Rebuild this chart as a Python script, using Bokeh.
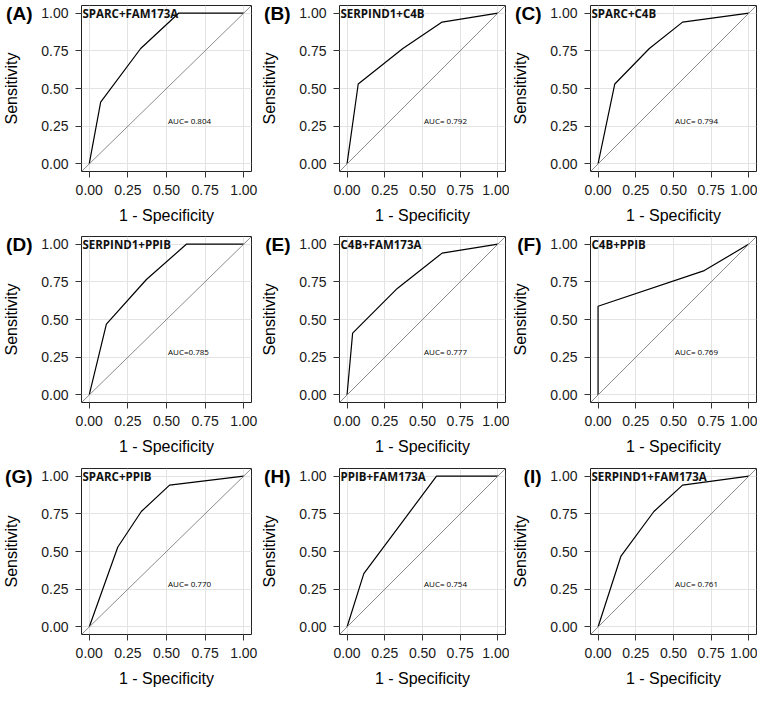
from bokeh.plotting import figure
from bokeh.layouts import gridplot
from bokeh.models import (Label, Slope, FixedTicker, NumeralTickFormatter, ColumnDataSource,
                          Range1d, LinearAxis)
from bokeh.embed import file_html
from bokeh.resources import INLINE

# ---------------- data ----------------
panel_tags = ["(A)", "(B)", "(C)", "(D)", "(E)", "(F)", "(G)", "(H)", "(I)"]
marker_names = ["SPARC+FAM173A", "SERPIND1+C4B", "SPARC+C4B",
                "SERPIND1+PPIB", "C4B+FAM173A", "C4B+PPIB",
                "SPARC+PPIB", "PPIB+FAM173A", "SERPIND1+FAM173A"]
auc_texts = ["AUC= 0.804", "AUC= 0.792", "AUC= 0.794",
             "AUC=0.785", "AUC= 0.777", "AUC= 0.769",
             "AUC= 0.770", "AUC= 0.754", "AUC= 0.761"]

fpr_A = [0.0, 0.074, 0.333, 0.580, 1.0]
tpr_A = [0.0, 0.410, 0.765, 1.000, 1.0]
fpr_B = [0.0, 0.074, 0.370, 0.630, 1.0]
tpr_B = [0.0, 0.530, 0.765, 0.940, 1.0]
fpr_C = [0.0, 0.111, 0.340, 0.560, 1.0]
tpr_C = [0.0, 0.530, 0.765, 0.940, 1.0]
fpr_D = [0.0, 0.111, 0.370, 0.630, 1.0]
tpr_D = [0.0, 0.470, 0.765, 1.000, 1.0]
fpr_E = [0.0, 0.037, 0.333, 0.630, 1.0]
tpr_E = [0.0, 0.410, 0.706, 0.940, 1.0]
fpr_F = [0.0, 0.000, 0.704, 1.0]
tpr_F = [0.0, 0.588, 0.824, 1.0]
fpr_G = [0.0, 0.185, 0.337, 0.520, 1.0]
tpr_G = [0.0, 0.530, 0.765, 0.940, 1.0]
fpr_H = [0.0, 0.111, 0.593, 1.0]
tpr_H = [0.0, 0.353, 1.000, 1.0]
fpr_I = [0.0, 0.152, 0.370, 0.560, 1.0]
tpr_I = [0.0, 0.470, 0.765, 0.940, 1.0]

fpr_all = [fpr_A, fpr_B, fpr_C, fpr_D, fpr_E, fpr_F, fpr_G, fpr_H, fpr_I]
tpr_all = [tpr_A, tpr_B, tpr_C, tpr_D, tpr_E, tpr_F, tpr_G, tpr_H, tpr_I]

tick_values = [0.0, 0.25, 0.5, 0.75, 1.0]
tag_tick = [1.0]
x_title = "1 - Specificity"
y_title = "Sensitivity"

# ---------------- layout ----------------
col_left = [77, 77, 77]
col_frame = [170, 166, 166]
col_right = [7, 4, 1]
row_top = [5, 8, 9]
row_bottom = [57, 57, 57]
row_frame = 166
X_LO, X_HI = -0.05, 1.05

AXIS_FONT = "Liberation Sans"
TXT_FONT = "Open Sans"

figs = []
for i in range(9):
    r, c = divmod(i, 3)
    p = figure(frame_width=col_frame[c], frame_height=row_frame,
               min_border_left=col_left[c], min_border_right=col_right[c],
               min_border_top=row_top[r], min_border_bottom=row_bottom[r],
               x_range=Range1d(X_LO, X_HI), y_range=Range1d(X_LO, X_HI),
               output_backend="svg", toolbar_location=None, tools="")
    p.background_fill_color = "white"
    p.border_fill_color = "white"
    p.outline_line_color = "#222222"
    p.outline_line_width = 1

    for ax in (p.xaxis, p.yaxis):
        ax.ticker = FixedTicker(ticks=tick_values)
        ax.formatter = NumeralTickFormatter(format="0.00")
        ax.axis_line_color = None
        ax.major_tick_line_color = "#333333"
        ax.major_tick_out = 6
        ax.major_tick_in = 0
        ax.minor_tick_line_color = None
        ax.major_label_text_font = AXIS_FONT
        ax.major_label_text_font_size = "14px"
        ax.major_label_text_color = "#1a1a1a"
        ax.axis_label_text_font = AXIS_FONT
        ax.axis_label_text_font_size = "16px"
        ax.axis_label_text_font_style = "normal"
        ax.axis_label_text_color = "#000000"
    p.xaxis.axis_label = x_title
    p.yaxis.axis_label = y_title
    p.xaxis.major_label_standoff = 7
    p.xaxis.axis_label_standoff = 9
    p.yaxis.major_label_standoff = 7
    p.yaxis.axis_label_standoff = 18

    # panel tag "(A)" ... drawn as the only tick label of an outer left axis
    tag_axis = LinearAxis(ticker=FixedTicker(ticks=tag_tick),
                          major_label_overrides={1: panel_tags[i]},
                          axis_line_color=None, major_tick_line_color=None,
                          minor_tick_line_color=None, major_tick_out=0, major_tick_in=0,
                          major_label_standoff=-32,
                          major_label_text_font=AXIS_FONT,
                          major_label_text_font_size="19px",
                          major_label_text_font_style="bold",
                          major_label_text_color="#000000")
    p.add_layout(tag_axis, "left")

    p.xgrid.ticker = FixedTicker(ticks=tick_values)
    p.ygrid.ticker = FixedTicker(ticks=tick_values)
    p.grid.grid_line_color = "#e3e3e3"
    p.grid.grid_line_width = 1

    p.add_layout(Slope(gradient=1, y_intercept=0, line_color="#8c8c8c", line_width=1))

    src = ColumnDataSource(dict(fpr=fpr_all[i], tpr=tpr_all[i]))
    p.line("fpr", "tpr", source=src, line_color="black", line_width=1.2)

    p.add_layout(Label(x=0.51, y=0.285, text=auc_texts[i], text_font=TXT_FONT,
                       text_font_size="8px", text_color="#000000",
                       text_align="left", text_baseline="middle"))
    p.add_layout(Label(x=1, x_units="screen", y=1.0, text=marker_names[i],
                       text_font=TXT_FONT, text_font_size="11.5px",
                       text_font_style="bold", text_color="#111111",
                       text_align="left", text_baseline="middle"))
    figs.append(p)

grid = gridplot(figs, ncols=3, toolbar_location=None)

open("out.html", "w").write(file_html(grid, INLINE))
